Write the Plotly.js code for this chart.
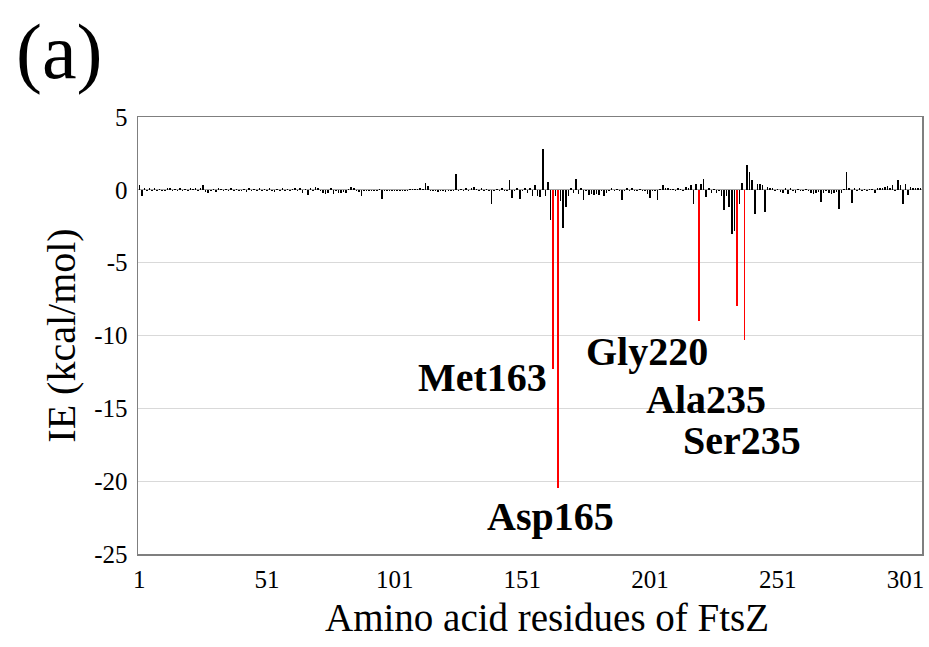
<!DOCTYPE html>
<html>
<head>
<meta charset="utf-8">
<script src="https://cdn.plot.ly/plotly-3.0.1.min.js"></script>
<style>html,body{margin:0;padding:0;background:#fff;}#chart{width:929px;height:647px;}</style>
</head>
<body>
<div id="chart"></div>
<script>
// Interaction energy (kcal/mol) for residues 1..307 of FtsZ
const ieValues = [
  0.3, -0.4, 0.1, -0.1, 0.1, -0.05, 0.15, -0.1, 0.05, -0.1,
  -0.05, 0.1, 0.15, -0.1, 0.05, -0.05, 0.1, -0.1, 0.05, -0.05,
  0.1, 0.05, 0.15, -0.1, 0.1, 0.3, -0.15, -0.2, -0.1, 0.05,
  -0.15, 0.1, 0.05, -0.1, 0.05, -0.05, 0.1, -0.1, 0.05, -0.05,
  -0.1, 0.05, -0.15, 0.1, -0.05, 0.05, -0.1, 0.1, -0.05, 0.05,
  -0.1, 0.15, -0.05, -0.15, 0.05, -0.1, 0.1, -0.05, 0.05, -0.1,
  0.05, 0.1, -0.05, 0.1, -0.25, 0.05, -0.35, 0.1, -0.1, 0.2,
  0.1, -0.05, -0.2, -0.3, -0.25, 0.15, -0.3, -0.1, -0.2, -0.25,
  -0.15, -0.2, 0.05, 0.2, 0.1, -0.1, -0.15, -0.45, -0.05, -0.1,
  -0.1, -0.05, -0.1, -0.05, 0.05, -0.6, -0.1, -0.05, -0.05, -0.05,
  -0.05, -0.05, -0.05, -0.05, -0.05, -0.05, 0.05, 0.05, 0.05, 0.05,
  0.1, 0.05, 0.5, 0.25, -0.1, -0.1, -0.05, -0.15, -0.1, -0.1,
  -0.15, -0.1, -0.1, -0.05, 1.1, -0.1, 0.05, -0.05, 0.1, -0.05,
  0.1, 0.2, 0.05, -0.1, 0.1, -0.05, 0.05, -0.1, -0.95, -0.1,
  0.05, -0.1, 0.1, -0.1, -0.05, 0.65, -0.55, -0.1, 0.15, -0.65,
  -0.1, 0.15, -0.2, 0.1, -0.45, 0.3, -0.45, -0.5, 2.8, -0.45,
  0.55, -2.1, -12.3, -0.4, -20.5, -0.8, -2.6, -1.2, -0.4, 0.15,
  -0.2, 0.75, -0.3, 0.15, -0.7, -0.1, -0.35, -0.3, -0.35, -0.3,
  -0.35, -0.1, -0.45, -0.2, -0.1, 0.1, -0.1, 0.05, -0.1, -0.7,
  -0.1, 0.1, -0.05, 0.1, -0.05, -0.05, 0.05, -0.05, -0.1, -0.3,
  -0.55, -0.1, -0.1, -0.7, 0.05, 0.35, 0.1, 0.1, 0.05, 0.05,
  -0.05, 0.1, 0.05, -0.1, 0.2, 0.1, 0.3, -0.95, 0.4, -9.0,
  0.4, 0.75, -0.5, 0.1, -0.2, 0.05, -0.2, -0.1, -0.4, -1.4,
  -0.4, -1.2, -3.0, -2.8, -8.0, -0.95, 0.5, -10.3, 1.7, 1.25,
  0.7, -1.65, 0.4, 0.4, 0.3, -1.5, 0.2, 0.1, 0.1, -0.1,
  0.05, -0.15, -0.2, 0.1, -0.3, 0.15, -0.05, -0.2, 0.05, -0.05,
  -0.1, 0.05, -0.05, -0.2, -0.3, -0.25, -0.15, -0.85, -0.2, -0.1,
  -0.25, -0.3, -0.2, -0.15, -1.3, -0.2, 0.05, 1.2, 0.1, -0.9,
  0.1, -0.05, 0.1, -0.1, 0.05, -0.1, 0.05, 0.05, -0.25, 0.1,
  0.1, 0.15, 0.2, 0.25, 0.15, 0.35, -0.1, 0.7, 0.3, -0.95,
  0.4, -0.35, 0.2, 0.1, 0.1, 0.15, 0.1
];
const residues = ieValues.map((_, i) => i + 1);
const highlightResidues = [163, 165, 220, 235, 238];
const highlightLabels = ["Met163", "Asp165", "Gly220", "Ala235", "Ser235"];
const xTickVals = [1, 51, 101, 151, 201, 251, 301];
const xTickText = ["1", "51", "101", "151", "201", "251", "301"];
const yTickVals = [5, 0, -5, -10, -15, -20, -25];
const yTickText = ["5", "0", "-5", "-10", "-15", "-20", "-25"];
const xTitle = "Amino acid residues of FtsZ";
const yTitle = "IE (kcal/mol)";
const panelLabel = "(a)";

const colors = residues.map(r => highlightResidues.includes(r) ? "#ff0000" : "#000000");
const widths = residues.map(r => highlightResidues.includes(r) ? 0.75 : 0.6);

const serif = "'Liberation Serif', 'Times New Roman', serif";

const trace = {
  type: "bar",
  x: residues,
  y: ieValues,
  width: widths,
  marker: { color: colors, line: { width: 0 } },
  hoverinfo: "x+y"
};

// label placement (text only)
const labelPos = [
  { x: 161.5, y: -12.9, xanchor: "right" },
  { x: 162, y: -22.4, xanchor: "center" },
  { x: 200, y: -11.1, xanchor: "center" },
  { x: 223, y: -14.4, xanchor: "center" },
  { x: 237, y: -17.2, xanchor: "center" }
];
const annotations = highlightLabels.map((t, i) => ({
  text: "<b>" + t + "</b>", xref: "x", yref: "y",
  x: labelPos[i].x, y: labelPos[i].y, xanchor: labelPos[i].xanchor, yanchor: "middle",
  showarrow: false, font: { family: serif, size: 40, color: "#000" }
}));
annotations.push({
  text: panelLabel, xref: "paper", yref: "paper", x: -0.158, y: 1.255,
  xanchor: "left", yanchor: "top", showarrow: false,
  font: { family: serif, size: 78, color: "#000" }
});
annotations.push({
  text: xTitle, xref: "paper", yref: "paper", x: 0.522, y: -0.092,
  xanchor: "center", yanchor: "top", showarrow: false,
  font: { family: serif, size: 39, color: "#000" }
});

const layout = {
  width: 929, height: 647,
  margin: { l: 138, r: 7, t: 117, b: 93 },
  paper_bgcolor: "#fff", plot_bgcolor: "#fff",
  showlegend: false,
  bargap: 0,
  font: { family: serif, color: "#000" },
  xaxis: {
    range: [0.5, 307.5], tickvals: xTickVals, ticktext: xTickText,
    showgrid: false, zeroline: false, ticks: "", ticklabelstandoff: 2,
    showline: true, mirror: true, linecolor: "#7f7f7f", linewidth: 1.5,
    tickfont: { family: serif, size: 25, color: "#000" }
  },
  yaxis: {
    range: [-25, 5], tickvals: yTickVals, ticktext: yTickText, ticks: "",
    ticklabelstandoff: 4,
    showgrid: true, gridcolor: "#d9d9d9", gridwidth: 1,
    zeroline: true, zerolinecolor: "#a6a6a6", zerolinewidth: 1,
    showline: true, mirror: true, linecolor: "#7f7f7f", linewidth: 1.5,
    tickfont: { family: serif, size: 25, color: "#000" },
    title: { text: yTitle, font: { family: serif, size: 40, color: "#000" }, standoff: 6 }
  },
  annotations: annotations
};

Plotly.newPlot("chart", [trace], layout, { displayModeBar: false, staticPlot: true });
</script>
</body>
</html>
